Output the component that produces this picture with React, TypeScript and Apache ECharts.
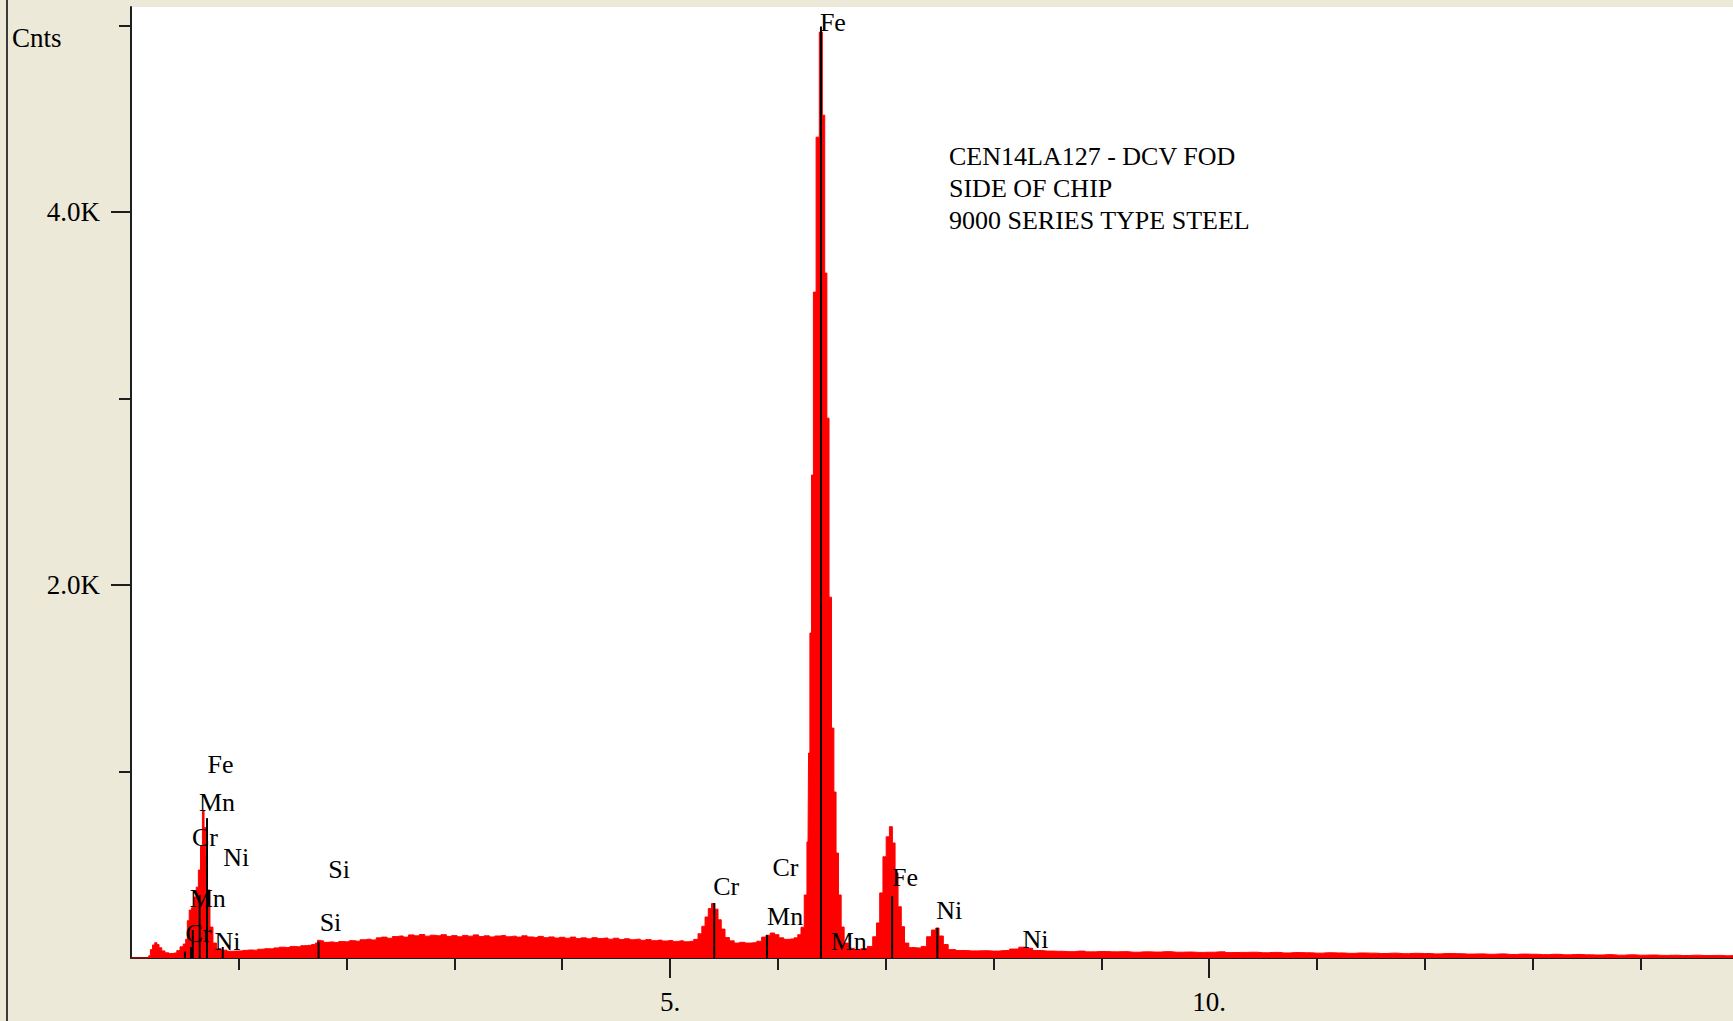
import React, { useEffect, useRef } from "react";
import * as echarts from "echarts";

// ---- spectrum (energy keV, counts) ----
const lowEnergySpectrum: [number, number][] = [
  [0.0, 0], [0.16, 0], [0.17, 12], [0.19, 45], [0.21, 70], [0.23, 82], [0.25, 72], [0.27, 55],
  [0.3, 38], [0.33, 28], [0.37, 24], [0.41, 27], [0.44, 40], [0.47, 60], [0.5, 75], [0.515, 100],
  [0.53, 200], [0.55, 257], [0.575, 270], [0.595, 327], [0.615, 380], [0.635, 472], [0.655, 600],
  [0.67, 790], [0.685, 700], [0.7, 541], [0.72, 365], [0.745, 166], [0.775, 80], [0.81, 50],
  [0.86, 42], [0.92, 36], [0.97, 37],
];

const continuumSpectrum: [number, number][] = [
  [1.0, 38], [1.05, 41], [1.1, 43], [1.15, 42], [1.2, 47], [1.25, 50], [1.3, 49], [1.35, 54],
  [1.4, 58], [1.45, 56], [1.5, 62], [1.55, 60], [1.6, 66], [1.65, 68], [1.7, 72], [1.72, 80],
  [1.74, 95], [1.77, 92], [1.8, 84], [1.85, 86], [1.9, 83], [1.95, 88], [2.0, 87], [2.05, 93],
  [2.1, 90], [2.15, 98], [2.2, 101], [2.25, 97], [2.3, 108], [2.35, 112], [2.4, 106], [2.45, 115],
  [2.5, 118], [2.55, 112], [2.6, 124], [2.65, 119], [2.7, 126], [2.75, 117], [2.8, 122], [2.85, 119],
  [2.9, 125], [2.95, 116], [3.0, 120], [3.05, 114], [3.1, 121], [3.15, 117], [3.2, 124], [3.25, 115],
  [3.3, 119], [3.35, 113], [3.4, 118], [3.45, 121], [3.5, 114], [3.55, 117], [3.6, 112], [3.65, 119],
  [3.7, 113], [3.75, 110], [3.8, 116], [3.85, 109], [3.9, 113], [3.95, 107], [4.0, 111], [4.05, 106],
  [4.1, 112], [4.15, 104], [4.2, 108], [4.25, 103], [4.3, 109], [4.35, 104], [4.4, 107], [4.45, 101],
  [4.5, 106], [4.55, 99], [4.6, 103], [4.65, 98], [4.7, 101], [4.75, 95], [4.8, 99], [4.85, 93],
  [4.9, 96], [4.95, 91], [5.0, 94], [5.05, 89], [5.1, 92], [5.15, 87],
];

const kLineSpectrum: [number, number][] = [
  [5.2, 90], [5.24, 100], [5.28, 130], [5.31, 170], [5.34, 220], [5.37, 265], [5.4, 292], [5.43, 262],
  [5.46, 205], [5.49, 155], [5.53, 110], [5.57, 92], [5.62, 80], [5.67, 84], [5.72, 80], [5.78, 82],
  [5.83, 90], [5.87, 112], [5.91, 122], [5.95, 134], [5.99, 125], [6.03, 108], [6.08, 100], [6.13, 102],
  [6.17, 108], [6.2, 125], [6.23, 165], [6.26, 338], [6.28, 622], [6.29, 1099], [6.305, 1743],
  [6.32, 2590], [6.34, 3571], [6.37, 4402], [6.4, 4965], [6.425, 4520], [6.445, 3673], [6.465, 2895],
  [6.485, 1935], [6.51, 1233], [6.53, 890], [6.55, 563], [6.575, 338], [6.6, 166], [6.63, 80],
  [6.68, 52], [6.74, 46], [6.8, 50], [6.86, 62], [6.9, 114], [6.93, 188], [6.96, 349], [6.99, 543],
  [7.02, 650], [7.05, 704], [7.075, 617], [7.1, 456], [7.13, 275], [7.16, 168], [7.19, 80], [7.24, 56],
  [7.3, 54], [7.36, 62], [7.4, 114], [7.45, 150], [7.48, 161], [7.51, 118], [7.56, 72],
];

const highEnergyTail: [number, number][] = [
  [7.6, 45], [7.7, 40], [7.8, 38], [7.9, 39], [8.0, 37], [8.1, 40], [8.2, 48], [8.27, 58], [8.33, 52],
  [8.4, 40], [8.5, 37], [8.6, 36], [8.7, 34], [8.8, 37], [8.9, 33], [9.0, 35], [9.1, 33], [9.2, 34],
  [9.3, 31], [9.4, 33], [9.5, 32], [9.6, 34], [9.7, 31], [9.8, 32], [9.9, 30], [10.0, 31], [10.1, 33],
  [10.2, 29], [10.3, 30], [10.4, 31], [10.5, 28], [10.6, 30], [10.7, 27], [10.8, 29], [10.9, 28],
  [11.0, 26], [11.1, 28], [11.2, 27], [11.3, 25], [11.4, 27], [11.5, 26], [11.6, 24], [11.7, 26],
  [11.8, 23], [11.9, 25], [12.0, 24], [12.1, 22], [12.2, 24], [12.3, 23], [12.4, 21], [12.5, 22],
  [12.6, 20], [12.7, 22], [12.8, 19], [12.9, 21], [13.0, 20], [13.1, 18], [13.2, 20], [13.3, 17],
  [13.4, 19], [13.5, 17], [13.6, 16], [13.7, 18], [13.8, 15], [13.9, 17], [14.0, 15], [14.1, 16],
  [14.2, 14], [14.3, 15], [14.4, 13], [14.5, 15], [14.6, 13], [14.7, 14], [14.8, 12], [14.86, 13],
];

// ---- element marker lines (KLM markers) ----
const markerLineEnergies = [0.5, 0.556, 0.573, 0.637, 0.705, 0.851, 1.74, 5.41, 5.9, 6.4, 7.06, 7.48];
const markerLineTops = [35, 59, 150, 338, 750, 59, 87, 295, 123, 4995, 332, 161];

// ---- element labels ----
const peakLabelNames = ["Fe", "Fe", "Cr", "Cr", "Mn", "Mn", "Ni", "Ni", "Si", "Si", "Fe", "Mn", "Cr", "Ni", "Mn", "Cr", "Ni"];
const peakLabelEnergies = [6.39, 7.06, 5.4, 5.95, 5.9, 6.49, 7.47, 8.27, 1.75, 1.83, 0.71, 0.63, 0.565, 0.855, 0.545, 0.505, 0.775];
const peakLabelHeights = [5016, 434, 386, 485, 225, 91, 257, 97, 190, 477, 1040, 834, 646, 539, 319, 131, 88];

// ---- axes ----
const xMajorTicks = [5, 10];
const xMinorTicks = [1, 2, 3, 4, 6, 7, 8, 9, 11, 12, 13, 14];
const yMajorTicks = [2000, 4000];
const yMinorTicks = [1000, 3000, 5000];
const xMax = 14.86;
const yMax = 5100;

const yAxisTitle = "Cnts";
const annotationLines = ["CEN14LA127 - DCV FOD", "SIDE OF CHIP", "9000 SERIES TYPE STEEL"];

const FONT = '"Liberation Serif", "Times New Roman", serif';
const AXIS_COLOR = "#1e1e1e";

export default function App() {
  const ref = useRef<HTMLDivElement>(null);

  useEffect(() => {
    if (!ref.current) return;
    const chart = echarts.init(ref.current, undefined, { renderer: "svg" });

    const spectrum = [...lowEnergySpectrum, ...continuumSpectrum, ...kLineSpectrum, ...highEnergyTail];
    const markerData = markerLineEnergies.map((e, i) => [e, markerLineTops[i]]);
    const labelData = peakLabelEnergies.map((e, i) => [e, peakLabelHeights[i]]);

    const option: any = {
      animation: false,
      backgroundColor: "#ECE9D8",
      grid: {
        left: 131,
        right: 0,
        top: 7,
        bottom: 63,
        show: true,
        backgroundColor: "#FFFFFF",
        borderWidth: 0,
      },
      xAxis: [
        {
          type: "value",
          min: 0,
          max: xMax,
          position: "bottom",
          axisLine: { show: true, onZero: false, lineStyle: { color: AXIS_COLOR, width: 2 } },
          axisTick: { show: true, customValues: xMajorTicks, length: 20, lineStyle: { color: AXIS_COLOR, width: 2 } },
          axisLabel: {
            show: true,
            customValues: xMajorTicks,
            formatter: (v: number) => `${v}.`,
            margin: 30,
            color: "#000",
            fontFamily: FONT,
            fontSize: 27,
          },
          splitLine: { show: false },
        },
        {
          type: "value",
          min: 0,
          max: xMax,
          position: "bottom",
          axisLine: { show: false, onZero: false },
          axisTick: { show: true, customValues: xMinorTicks, length: 12, lineStyle: { color: AXIS_COLOR, width: 2 } },
          axisLabel: { show: false },
          splitLine: { show: false },
        },
      ],
      yAxis: [
        {
          type: "value",
          min: 0,
          max: yMax,
          position: "left",
          axisLine: { show: true, onZero: false, lineStyle: { color: AXIS_COLOR, width: 2 } },
          axisTick: { show: true, customValues: yMajorTicks, length: 20, lineStyle: { color: AXIS_COLOR, width: 2 } },
          axisLabel: {
            show: true,
            customValues: yMajorTicks,
            formatter: (v: number) => `${(v / 1000).toFixed(1)}K`,
            margin: 31,
            color: "#000",
            fontFamily: FONT,
            fontSize: 27,
          },
          splitLine: { show: false },
        },
        {
          type: "value",
          min: 0,
          max: yMax,
          position: "left",
          axisLine: { show: false, onZero: false },
          axisTick: { show: true, customValues: yMinorTicks, length: 12, lineStyle: { color: AXIS_COLOR, width: 2 } },
          axisLabel: { show: false },
          splitLine: { show: false },
        },
      ],
      series: [
        {
          type: "line",
          xAxisIndex: 0,
          yAxisIndex: 0,
          data: spectrum,
          step: "middle",
          showSymbol: false,
          symbol: "none",
          lineStyle: { color: "#FF0000", width: 1 },
          areaStyle: { color: "#FF0000", opacity: 1 },
          z: 2,
        },
        {
          type: "custom",
          xAxisIndex: 0,
          yAxisIndex: 0,
          data: markerData,
          z: 3,
          renderItem: (params: any, api: any) => {
            const p0 = api.coord([api.value(0), 0]);
            const p1 = api.coord([api.value(0), api.value(1)]);
            return {
              type: "line",
              shape: { x1: p0[0], y1: p0[1], x2: p1[0], y2: p1[1] },
              style: { stroke: "#000000", lineWidth: 2 },
            };
          },
        },
        {
          type: "custom",
          xAxisIndex: 0,
          yAxisIndex: 0,
          data: labelData,
          z: 4,
          clip: false,
          renderItem: (params: any, api: any) => {
            const p = api.coord([api.value(0), api.value(1)]);
            return {
              type: "text",
              x: p[0],
              y: p[1],
              style: {
                text: peakLabelNames[params.dataIndex],
                fill: "#000000",
                font: `26px ${FONT}`,
                align: "left",
                verticalAlign: "middle",
              },
            };
          },
        },
      ],
      graphic: [
        { type: "rect", left: 6, top: 0, shape: { width: 2, height: 1021 }, style: { fill: "#3a3a3a" }, z: 10 },
        {
          type: "text",
          x: 12,
          y: 38,
          style: { text: yAxisTitle, font: `27px ${FONT}`, fill: "#000", align: "left", verticalAlign: "middle" },
          z: 10,
        },
        ...annotationLines.map((t, i) => ({
          type: "text",
          x: 949,
          y: 156 + i * 32,
          style: { text: t, font: `26px ${FONT}`, fill: "#000", align: "left", verticalAlign: "middle" },
          z: 10,
        })),
      ],
    };

    chart.setOption(option);
    return () => chart.dispose();
  }, []);

  return (
    <div
      ref={ref}
      style={{ position: "fixed", left: 0, top: 0, width: 1733, height: 1021 }}
    />
  );
}
